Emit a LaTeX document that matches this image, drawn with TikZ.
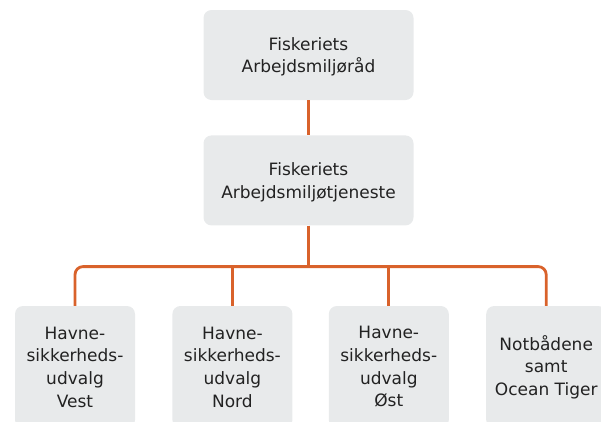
\documentclass[tikz,border=0pt]{standalone}
\usepackage{fontspec}
\setmainfont{DejaVu Sans}
\usetikzlibrary{positioning,calc}

\definecolor{boxgrey}{HTML}{E8EAEB}
\definecolor{linkorange}{HTML}{D9622B}
\definecolor{textgrey}{HTML}{222222}

\begin{document}
\begin{tikzpicture}[
  x=1pt, y=1pt,
  unit/.style={rectangle, rounded corners=8pt, fill=boxgrey, text=textgrey,
    align=center, font={\fontsize{17}{22.7}\selectfont}, inner sep=0pt},
  council/.style={unit, minimum width=210pt, minimum height=90pt, text depth=-3pt},
  committee/.style={unit, minimum width=120pt, minimum height=122pt},
  link/.style={draw=linkorange, line width=2.8pt},
  ]
  \useasboundingbox (0,0) rectangle (601,-421);

  \node [council] (raad) at (308.5,-55) {Fiskeriets\\Arbejdsmiljøråd};
  \node [council, below=35pt of raad] (tjeneste) {Fiskeriets\\Arbejdsmiljøtjeneste};

  \node [committee] (vest) at (75,-367) {Havne-\\sikkerheds-\\udvalg\\Vest};
  \node [committee, right=37pt of vest] (nord) {Havne-\\sikkerheds-\\udvalg\\Nord};
  \node [committee, right=36pt of nord] (oest) {Havne-\\sikkerheds-\\udvalg\\Øst};
  \node [committee, right=37pt of oest] (tiger) {Notbådene\\samt\\Ocean Tiger};

  \coordinate [below=41pt of tjeneste] (junction);

  \draw [link] (raad) -- (tjeneste);
  \draw [link] (tjeneste) -- (junction);
  \draw [link, rounded corners=8pt] (vest.north) |- (junction) -| (tiger.north);
  \draw [link] (nord.north) -- (nord.north |- junction);
  \draw [link] (oest.north) -- (oest.north |- junction);
\end{tikzpicture}
\end{document}
